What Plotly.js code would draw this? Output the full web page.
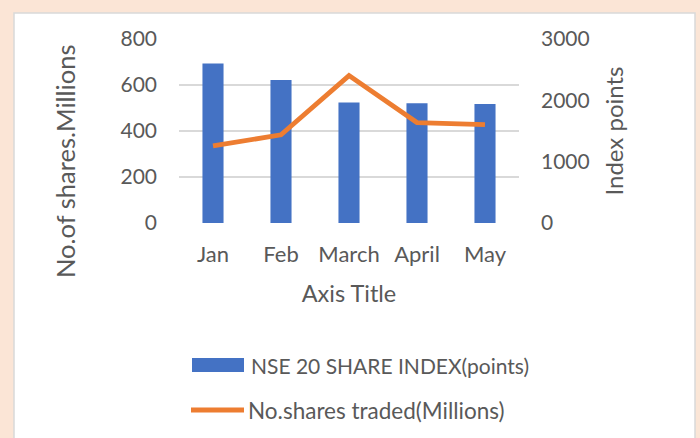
<!DOCTYPE html>
<html><head><meta charset="utf-8">
<script src="https://cdn.plot.ly/plotly-3.0.1.min.js"></script>
<style>html,body{margin:0;padding:0;background:#FBE5D6;}#chart{width:700px;height:438px;}</style>
</head><body><div id="chart"></div>
<script>
const months = ["Jan", "Feb", "March", "April", "May"];
const indexPoints = [694, 622, 524, 521, 517];
const sharesTraded = [1258, 1437, 2403, 1638, 1605];
const seriesNames = ["NSE 20 SHARE INDEX(points)", "No.shares traded(Millions)"];
const leftTicks = [0, 200, 400, 600, 800];
const rightTicks = [0, 1000, 2000, 3000];
const leftTitle = "No.of shares.Millions";
const rightTitle = "Index points";
const xTitle = "Axis Title";

const FONT = "Lato, 'Open Sans', sans-serif";
const GREY = "#595959";
const BLUE = "#4472C4";
const ORANGE = "#ED7D31";

const traces = [
  {type: "bar", x: months, y: indexPoints, name: seriesNames[0], marker: {color: BLUE}, width: 0.31, yaxis: "y"},
  {type: "scatter", mode: "lines", x: months, y: sharesTraded, name: seriesNames[1], line: {color: ORANGE, width: 4.8}, yaxis: "y2"}
];

const px = v => (v - 179) / 340;
const py = v => (223 - v) / 184;

const layout = {
  width: 700, height: 438,
  margin: {l: 179, r: 181, t: 39, b: 215},
  paper_bgcolor: "#FBE5D6",
  plot_bgcolor: "rgba(0,0,0,0)",
  showlegend: false,
  font: {family: FONT, color: GREY, size: 21},
  xaxis: {
    type: "category", showgrid: false, showline: false, zeroline: false,
    ticks: "", ticklabelstandoff: 16,
    tickfont: {size: 22, color: GREY},
    title: {text: xTitle, font: {size: 23.5, color: GREY}, standoff: 19}
  },
  yaxis: {
    range: [0, 800], tickvals: leftTicks, showgrid: true, gridcolor: "#D9D9D9", gridwidth: 1.3,
    zeroline: false, showline: false, ticks: "", ticklabelstandoff: 21,
    tickfont: {size: 21, color: GREY}
  },
  yaxis2: {
    overlaying: "y", side: "right", range: [0, 3000], tickvals: rightTicks,
    showgrid: false, zeroline: false, showline: false, ticks: "", ticklabelstandoff: 21,
    tickfont: {size: 21, color: GREY},
    title: {text: rightTitle, font: {size: 24, color: GREY}, standoff: 17}
  },
  shapes: [
    {type: "rect", xref: "paper", yref: "paper", x0: px(14), x1: px(695), y0: py(460), y1: py(13),
     fillcolor: "#FFFFFF", line: {color: "#D9D9D9", width: 1.5}, layer: "below"},
    {type: "rect", xref: "paper", yref: "paper", x0: px(192), x1: px(244), y0: py(372), y1: py(358),
     fillcolor: BLUE, line: {width: 0}},
    {type: "line", xref: "paper", yref: "paper", x0: px(191), x1: px(244), y0: py(410), y1: py(410),
     line: {color: ORANGE, width: 5}}
  ],
  annotations: [
    {xref: "paper", yref: "paper", x: px(65), y: py(162), xanchor: "center", yanchor: "middle", showarrow: false,
     textangle: -90, text: leftTitle, font: {size: 25.5, color: GREY, family: FONT}},
    {xref: "paper", yref: "paper", x: px(249), y: py(365), xanchor: "left", yanchor: "middle", showarrow: false,
     text: seriesNames[0], font: {size: 21, color: GREY, family: FONT}},
    {xref: "paper", yref: "paper", x: px(246), y: py(410), xanchor: "left", yanchor: "middle", showarrow: false,
     text: seriesNames[1], font: {size: 22.5, color: GREY, family: FONT}}
  ]
};

Plotly.newPlot("chart", traces, layout, {displayModeBar: false, staticPlot: true});
</script></body></html>
